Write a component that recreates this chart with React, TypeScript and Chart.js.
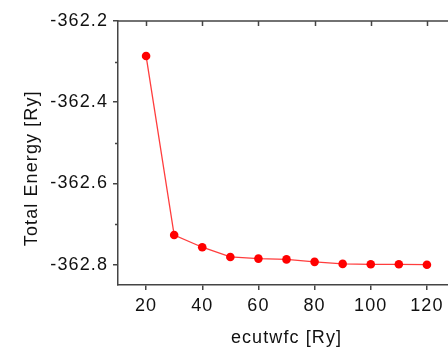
import React, { useEffect, useRef } from 'react';
import { Chart, registerables } from 'chart.js';

Chart.register(...registerables);

const cutoffs = [20, 30, 40, 50, 60, 70, 80, 90, 100, 110, 120];
const energies = [-362.286, -362.727, -362.757, -362.781, -362.785, -362.787, -362.793, -362.798, -362.799, -362.799, -362.8];
const xTickValues = [20, 40, 60, 80, 100, 120];
const yMajorTicks = [-362.8, -362.6, -362.4, -362.2];
const yMinorTicks = [-362.7, -362.5, -362.3];
const xLabel = 'ecutwfc [Ry]';
const yLabel = 'Total Energy [Ry]';

const FONT = 'Liberation Sans, Arial, sans-serif';
const AXIS = '#444';
const TEXT = '#111';

const spacingPlugin = {
  id: 'spacing',
  beforeUpdate(chart: any) {
    chart.ctx.letterSpacing = '1.1px';
  },
  beforeDraw(chart: any) {
    chart.ctx.letterSpacing = '1.1px';
  },
};

const framePlugin = {
  id: 'frame',
  afterDraw(chart: any) {
    const { ctx, chartArea } = chart;
    const xs = chart.scales.x;
    const ys = chart.scales.y;
    ctx.save();
    ctx.strokeStyle = AXIS;
    ctx.lineWidth = 1.5;
    ctx.beginPath();
    ctx.moveTo(chartArea.left, chartArea.top);
    ctx.lineTo(chartArea.right, chartArea.top);
    ctx.lineTo(chartArea.right, chartArea.bottom);
    ctx.stroke();
    ctx.beginPath();
    xTickValues.forEach((v) => {
      const px = Math.round(xs.getPixelForValue(v)) + 0.5;
      ctx.moveTo(px, chartArea.top);
      ctx.lineTo(px, chartArea.top + 5);
    });
    yMinorTicks.forEach((v) => {
      const py = Math.round(ys.getPixelForValue(v)) + 0.5;
      ctx.moveTo(chartArea.left - 3, py);
      ctx.lineTo(chartArea.left, py);
    });
    ctx.stroke();
    ctx.restore();
  },
};

export default function App() {
  const ref = useRef<HTMLCanvasElement | null>(null);

  useEffect(() => {
    if (!ref.current) return;
    const chart = new Chart(ref.current, {
      type: 'line',
      data: {
        datasets: [
          {
            data: cutoffs.map((c, i) => ({ x: c, y: energies[i] })),
            borderColor: 'rgba(255,40,40,0.9)',
            borderWidth: 1.3,
            pointBackgroundColor: '#ff0000',
            pointBorderColor: '#ff0000',
            pointRadius: 4.3,
            pointBorderWidth: 0,
            tension: 0,
          },
        ],
      },
      options: {
        animation: false,
        responsive: false,
        layout: { padding: { top: 21, right: 15, left: 0, bottom: 0 } },
        plugins: { legend: { display: false }, tooltip: { enabled: false } },
        scales: {
          x: {
            type: 'linear',
            min: 10,
            max: 130,
            afterBuildTicks: (scale: any) => {
              scale.ticks = xTickValues.map((v) => ({ value: v }));
            },
            afterFit: (scale: any) => {
              scale.height = 62;
            },
            grid: { drawOnChartArea: false, drawTicks: true, tickLength: 5, color: AXIS, lineWidth: 1.5 },
            border: { display: true, color: AXIS, width: 1.5 },
            ticks: {
              autoSkip: false,
              maxRotation: 0,
              padding: 5,
              color: TEXT,
              font: { family: FONT, size: 18 },
              callback: (v: any) => String(v),
            },
            title: {
              display: true,
              text: xLabel,
              color: TEXT,
              font: { family: FONT, size: 18 },
              padding: { top: 0, bottom: -2 },
            },
          },
          y: {
            type: 'linear',
            min: -362.85,
            max: -362.2,
            afterBuildTicks: (scale: any) => {
              scale.ticks = yMajorTicks.map((v) => ({ value: v }));
            },
            afterFit: (scale: any) => {
              scale.width = 118;
            },
            grid: { drawOnChartArea: false, drawTicks: true, tickLength: 5, color: AXIS, lineWidth: 1.5 },
            border: { display: true, color: AXIS, width: 1.5 },
            ticks: {
              autoSkip: false,
              padding: 5,
              color: TEXT,
              font: { family: FONT, size: 18 },
              callback: (v: any) => Number(v).toFixed(1),
            },
            title: {
              display: true,
              text: yLabel + '     ',
              color: TEXT,
              font: { family: FONT, size: 18 },
              padding: { top: 21, bottom: 0 },
            },
          },
        },
      },
      plugins: [spacingPlugin, framePlugin],
    } as any);
    return () => chart.destroy();
  }, []);

  return (
    <div
      style={{
        position: 'fixed',
        left: 0,
        top: 0,
        width: 448,
        height: 347,
        overflow: 'hidden',
        background: '#fff',
      }}
    >
      <canvas ref={ref} width={470} height={347} style={{ display: 'block' }} />
    </div>
  );
}
